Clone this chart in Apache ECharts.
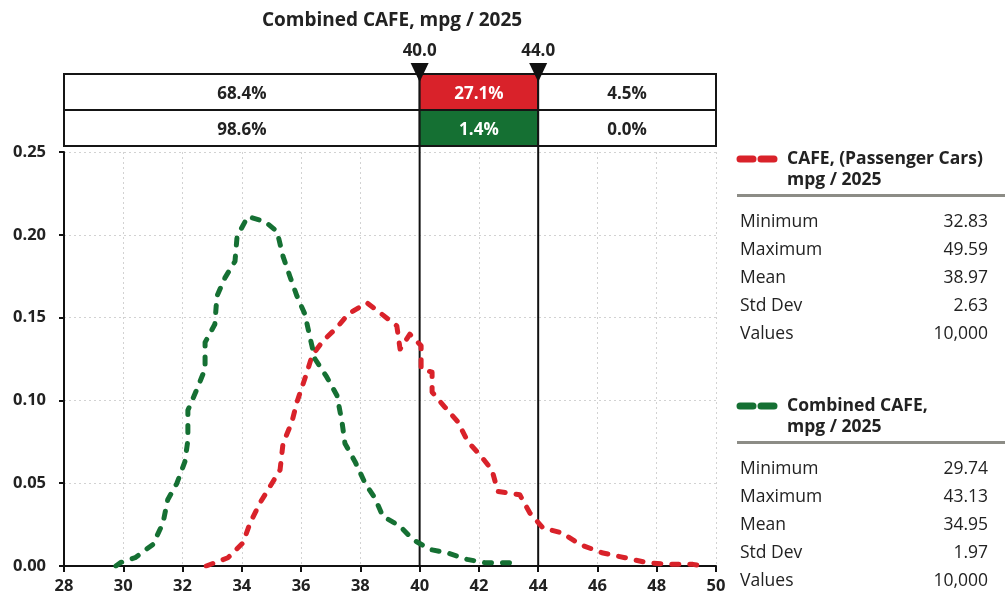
<!DOCTYPE html>
<html><head><meta charset="utf-8">
<script src="https://cdn.jsdelivr.net/npm/echarts@6/dist/echarts.min.js"></script>
<style>html,body{margin:0;padding:0;background:#fff}#c{width:1005px;height:605px}</style>
</head><body><div id="c"></div>
<script>
// ---------------- data ----------------
const titleText = 'Combined CAFE, mpg / 2025';
const xMin = 28, xMax = 50, xStep = 2;
const yMin = 0, yMax = 0.25, yStep = 0.05;
const thresholds = [40.0, 44.0];
const thresholdLabels = ['40.0', '44.0'];
const carsPct = ['68.4%', '27.1%', '4.5%'];
const combinedPct = ['98.6%', '1.4%', '0.0%'];
const carsName = ['CAFE, (Passenger Cars)', 'mpg / 2025'];
const combinedName = ['Combined CAFE,', 'mpg / 2025'];
const statLabels = ['Minimum', 'Maximum', 'Mean', 'Std Dev', 'Values'];
const carsStats = ['32.83', '49.59', '38.97', '2.63', '10,000'];
const combinedStats = ['29.74', '43.13', '34.95', '1.97', '10,000'];

// CAFE (Passenger Cars) density curve [mpg, probability]
const carsCurve = [
  [32.8,0.000],[33.53,0.005],[34.04,0.014],[34.28,0.026],[34.61,0.038],[34.95,0.048],
  [35.29,0.058],[35.39,0.074],[35.69,0.087],[35.86,0.099],[36.03,0.108],[36.2,0.117],
  [36.37,0.127],[36.74,0.136],[37.21,0.144],[37.58,0.152],[38.22,0.159],[38.73,0.152],
  [39.23,0.145],[39.34,0.131],[39.67,0.140],[40.05,0.133],[40.05,0.119],[40.42,0.117],
  [40.42,0.105],[40.85,0.096],[41.29,0.087],[41.63,0.075],[42.04,0.067],[42.44,0.058],
  [42.64,0.045],[43.38,0.043],[43.72,0.032],[44.16,0.023],[44.8,0.020],[45.41,0.013],
  [46.15,0.008],[46.93,0.005],[47.67,0.002],[48.45,0.001],[49.22,0.001],[49.55,0.000]
];
// Combined CAFE density curve [mpg, probability]
const combinedCurve = [
  [29.75,0.000],[29.9,0.002],[30.4,0.005],[31.0,0.013],[31.34,0.026],[31.5,0.040],
  [31.81,0.050],[32.08,0.063],[32.18,0.076],[32.18,0.094],[32.49,0.107],[32.76,0.119],
  [32.76,0.135],[33.09,0.146],[33.16,0.163],[33.43,0.174],[33.77,0.184],[33.84,0.199],
  [34.2,0.211],[34.78,0.208],[35.19,0.202],[35.39,0.187],[35.62,0.175],[35.86,0.163],
  [36.13,0.152],[36.3,0.138],[36.47,0.125],[36.87,0.114],[37.21,0.103],[37.38,0.087],
  [37.48,0.074],[37.82,0.063],[38.16,0.050],[38.49,0.041],[38.76,0.030],[39.34,0.024],
  [39.77,0.016],[40.35,0.010],[40.92,0.008],[41.6,0.004],[42.2,0.002],[43.1,0.002]
];

// ---------------- styling ----------------
const RED = '#d9222a', GREEN = '#157033', FONT = '"Open Sans", "Noto Sans", sans-serif';
const chart = echarts.init(document.getElementById('c'), null, {renderer: 'canvas'});

// band cells: [x0, x1, row, col]
const bounds = [xMin].concat(thresholds, [xMax]);
const cellRows = [carsPct, combinedPct];
const cellFill = [['#fff', RED, '#fff'], ['#fff', GREEN, '#fff']];
const cells = [];
cellRows.forEach((row, r) => row.forEach((t, c) => cells.push([bounds[c], bounds[c + 1], r, c])));

const graphics = [];
graphics.push({type: 'text', x: 392, y: 21, style: {text: titleText, font: 'bold 19px ' + FONT, fill: '#222', align: 'center', verticalAlign: 'middle'}});

function panel(top, color, nameLines, stats) {
  graphics.push({type: 'line', shape: {x1: 740, y1: top, x2: 774, y2: top}, style: {stroke: color, lineWidth: 7, lineDash: [13, 8], lineCap: 'round'}});
  nameLines.forEach((t, i) => graphics.push({type: 'text', x: 787, y: top + i * 21, style: {text: t, font: 'bold 17.5px ' + FONT, fill: '#222', verticalAlign: 'middle'}}));
  graphics.push({type: 'rect', shape: {x: 737, y: top + 35, width: 268, height: 3}, style: {fill: '#8c8c86'}});
  statLabels.forEach((t, i) => {
    graphics.push({type: 'text', x: 740, y: top + 63 + i * 28, style: {text: t, font: '17.5px ' + FONT, fill: '#222', verticalAlign: 'middle'}});
    graphics.push({type: 'text', x: 988, y: top + 63 + i * 28, style: {text: stats[i], font: '17.5px ' + FONT, fill: '#222', align: 'right', verticalAlign: 'middle'}});
  });
}
panel(159, RED, carsName, carsStats);
panel(406, GREEN, combinedName, combinedStats);

const option = {
  backgroundColor: '#fff',
  animation: false,
  graphic: graphics,
  grid: [
    {left: 64, right: 289, top: 152, bottom: 39},
    {left: 64, right: 289, top: 74, height: 72}
  ],
  xAxis: [
    {gridIndex: 0, type: 'value', min: xMin, max: xMax, interval: xStep,
     axisLine: {lineStyle: {color: '#111', width: 2}},
     axisTick: {show: true, length: 6, lineStyle: {color: '#111', width: 2}},
     axisLabel: {color: '#222', fontWeight: 'bold', fontSize: 16.5, fontFamily: FONT, margin: 12},
     splitLine: {show: true, lineStyle: {color: '#d2d2d2', type: [2, 3], width: 1}}},
    {gridIndex: 1, type: 'value', min: xMin, max: xMax, show: false}
  ],
  yAxis: [
    {gridIndex: 0, type: 'value', min: yMin, max: yMax, interval: yStep,
     axisLine: {show: true, lineStyle: {color: '#111', width: 2}},
     axisTick: {show: true, length: 5, lineStyle: {color: '#111', width: 2}},
     axisLabel: {color: '#222', fontWeight: 'bold', fontSize: 16.5, fontFamily: FONT, margin: 18, formatter: v => v.toFixed(2)},
     splitLine: {show: true, lineStyle: {color: '#d2d2d2', type: [2, 3], width: 1}}},
    {gridIndex: 1, type: 'value', min: 0, max: 2, inverse: true, show: false}
  ],
  series: [
    {type: 'custom', xAxisIndex: 0, yAxisIndex: 0, z: 1, clip: false,
     data: thresholds.map(v => [v]),
     encode: {x: 0},
     renderItem(params, api) {
       const v = api.value(0);
       const b = api.coord([v, yMin]), t = api.coord([v, yMax]);
       return {type: 'line', shape: {x1: b[0], y1: b[1], x2: t[0], y2: t[1] - 8}, style: {stroke: '#111', lineWidth: 2}};
     }},
    {type: 'line', name: 'CAFE, (Passenger Cars) mpg / 2025', data: carsCurve, showSymbol: false, z: 3,
     lineStyle: {color: RED, width: 5, type: [7, 11], cap: 'round', join: 'round'}},
    {type: 'line', name: 'Combined CAFE, mpg / 2025', data: combinedCurve, showSymbol: false, z: 4,
     lineStyle: {color: GREEN, width: 5, type: [7, 11], cap: 'round', join: 'round'}},
    {type: 'custom', xAxisIndex: 1, yAxisIndex: 1, z: 5, clip: false,
     data: cells,
     encode: {x: [0, 1], y: 2},
     renderItem(params, api) {
       const cell = cells[params.dataIndex];
       const r = cell[2], c = cell[3];
       const p0 = api.coord([cell[0], r]), p1 = api.coord([cell[1], r + 1]);
       const fill = cellFill[r][c];
       return {type: 'group', children: [
         {type: 'rect', shape: {x: p0[0], y: p0[1], width: p1[0] - p0[0], height: p1[1] - p0[1]}, style: {fill: fill, stroke: '#151515', lineWidth: 2}},
         {type: 'text', style: {text: cellRows[r][c], x: (p0[0] + p1[0]) / 2, y: (p0[1] + p1[1]) / 2 + 2, align: 'center', verticalAlign: 'middle', font: 'bold 17px ' + FONT, fill: fill === '#fff' ? '#222' : '#fff'}}
       ]};
     }},
    {type: 'custom', xAxisIndex: 1, yAxisIndex: 1, z: 6, clip: false,
     data: thresholds.map(v => [v, 0]),
     encode: {x: 0, y: 1},
     renderItem(params, api) {
       const p = api.coord([api.value(0), 0]);
       return {type: 'group', children: [
         {type: 'polygon', shape: {points: [[p[0] - 9, p[1] - 11], [p[0] + 9, p[1] - 11], [p[0], p[1] + 8]]}, style: {fill: '#111'}},
         {type: 'text', style: {text: thresholdLabels[params.dataIndex], x: p[0], y: p[1] - 23, align: 'center', verticalAlign: 'middle', font: 'bold 17px ' + FONT, fill: '#222'}}
       ]};
     }}
  ]
};
chart.setOption(option);
</script></body></html>
